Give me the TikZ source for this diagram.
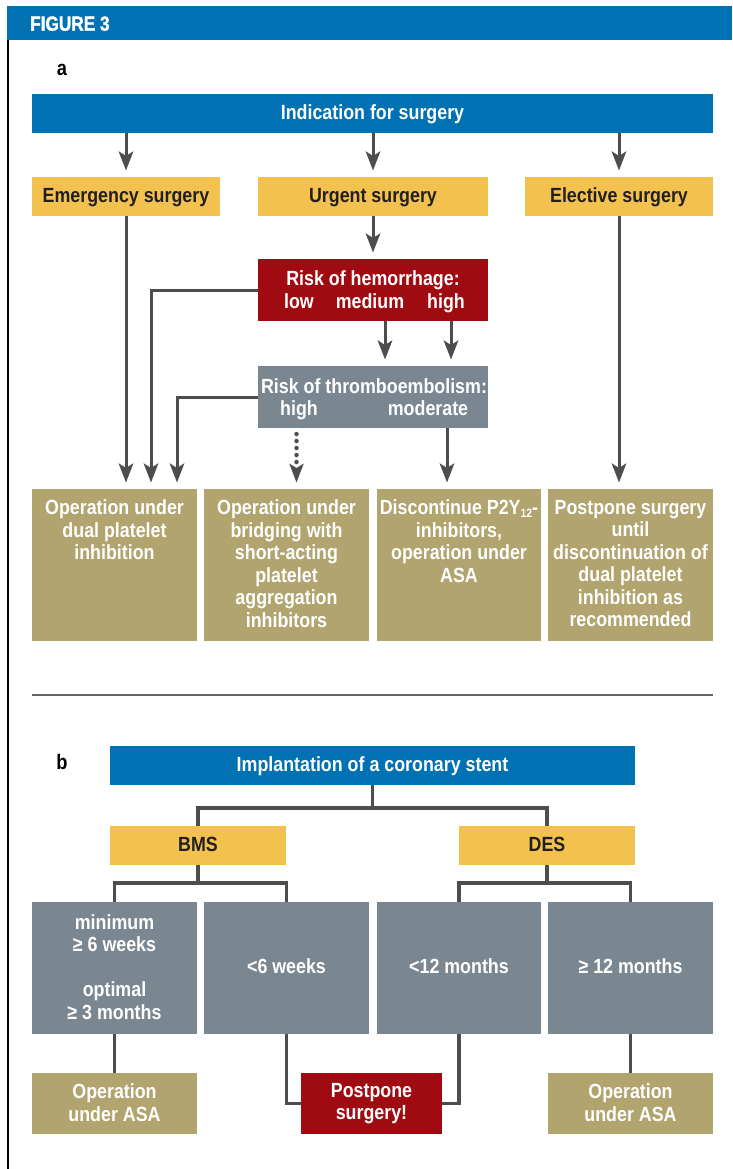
\documentclass[tikz,border=0pt]{standalone}
\usepackage{fontspec}
\setmainfont{Liberation Sans}[FakeStretch=0.87]
\newfontfamily\headfont{Liberation Sans Bold}[FakeStretch=0.84, FakeBold=1.6]
\usetikzlibrary{arrows.meta,calc}
\definecolor{cblue}{RGB}{0,113,179}
\definecolor{cyellow}{RGB}{242,193,78}
\definecolor{cred}{RGB}{160,11,18}
\definecolor{cgrey}{RGB}{123,135,144}
\definecolor{ckhaki}{RGB}{178,164,111}
\definecolor{cline}{RGB}{77,77,79}
\definecolor{cdark}{RGB}{35,31,32}
\definecolor{csep}{RGB}{100,100,100}
\tikzset{
  rbox/.style={rectangle, inner sep=0pt, outer sep=0pt, draw=none},
  txt/.style={font={\fontsize{20.5}{22.5}\selectfont\bfseries}, inner sep=0pt, outer sep=0pt, align=center},
  wtxt/.style={txt, text=white},
  dtxt/.style={txt, text=cdark},
  arr/.style={draw=cline, line width=3pt, -{Stealth[length=19pt,width=14.5pt,inset=4.5pt]}, shorten >=6.5pt},
  dotarr/.style={draw=cline, -{Stealth[length=19pt,width=14.5pt,inset=4.5pt,line width=0pt]}, shorten >=6.5pt, dash pattern=on 0pt off 7pt, line cap=round, line width=4.5pt},
  ln/.style={draw=cline, line width=3.2pt},
}
\begin{document}
\begin{tikzpicture}[x=1pt,y=-1pt]
\useasboundingbox (0,0) rectangle (732,1169);
% header
\node[rbox, fill=cblue, minimum width=725pt, minimum height=34pt] (hdr) at (369.5,23) {};
\node[anchor=base west, inner sep=0pt, text=white, font={\headfont\fontsize{20.5}{22}\selectfont}] (hdrt) at (30,30.7) {FIGURE 3};
\draw[line width=2pt, black] (7.5,40) -- (7.5,1169);

% ---------- part a ----------
\node[anchor=base, inner sep=0pt, font={\fontsize{21}{22}\selectfont\bfseries}] (la) at (62,76) {a};
\node[rbox, fill=cblue, minimum width=681pt, minimum height=39pt] (ind) at (372.5,113.5) {};
\node[wtxt, anchor=base] (indt) at (372.5,119.5) {Indication for surgery};

\node[rbox, fill=cyellow, minimum width=188pt, minimum height=39pt] (emerg) at (126,196.5) {};
\node[dtxt, anchor=base] (emergt) at (126,202.7) {Emergency surgery};
\node[rbox, fill=cyellow, minimum width=230pt, minimum height=39pt] (urg) at (373,196.5) {};
\node[dtxt, anchor=base] (urgt) at (373,202.7) {Urgent surgery};
\node[rbox, fill=cyellow, minimum width=188pt, minimum height=39pt] (elec) at (619,196.5) {};
\node[dtxt, anchor=base] (elect) at (619,202.7) {Elective surgery};

\node[rbox, fill=cred, minimum width=230pt, minimum height=62pt] (risk) at (373,290) {};
\node[wtxt, anchor=base] (riskt) at (373,285.5) {Risk of hemorrhage:};
\node[wtxt, anchor=base] (rlow) at (299,308.5) {low};
\node[wtxt, anchor=base] (rmed) at (370,308.5) {medium};
\node[wtxt, anchor=base] (rhigh) at (446,308.5) {high};

\node[rbox, fill=cgrey, minimum width=230pt, minimum height=62pt] (thromb) at (373,397) {};
\node[wtxt, anchor=base] (thrombt) at (374,393) {Risk of thromboembolism:};
\node[wtxt, anchor=base] (thigh) at (299,415) {high};
\node[wtxt, anchor=base] (tmod) at (428,415) {moderate};

\node[rbox, fill=ckhaki, minimum width=165pt, minimum height=152pt] (op1) at (114.5,565) {};
\node[rbox, fill=ckhaki, minimum width=165pt, minimum height=152pt] (op2) at (286.5,565) {};
\node[rbox, fill=ckhaki, minimum width=164pt, minimum height=152pt] (op3) at (459,565) {};
\node[rbox, fill=ckhaki, minimum width=165pt, minimum height=152pt] (op4) at (630.5,565) {};
\node[wtxt, anchor=north] (op1t) at (114.5,500) {Operation under\\dual platelet\\inhibition};
\node[wtxt, anchor=north] (op2t) at (286.5,500) {Operation under\\bridging with\\short-acting\\platelet\\aggregation\\inhibitors};
\node[wtxt, anchor=north] (op3t) at (459,500) {Discontinue P2Y{\fontsize{12}{12}\selectfont\raisebox{-2.5pt}{12}}-\\inhibitors,\\operation under\\ASA};
\node[wtxt, anchor=north] (op4t) at (630.5,500) {Postpone surgery\\until\\discontinuation of\\dual platelet\\inhibition as\\recommended};

\coordinate (c1) at (151,489);
\coordinate (c2) at (177,489);

\draw[arr] (ind.south -| emerg) -- (emerg.north);
\draw[arr] (ind.south -| urg) -- (urg.north);
\draw[arr] (ind.south -| elec) -- (elec.north);
\draw[arr] (urg.south) -- (risk.north);
\draw[arr] ([xshift=12pt]risk.south) -- ([xshift=12pt]thromb.north);
\draw[arr] ([xshift=78pt]risk.south) -- ([xshift=78pt]thromb.north);
\draw[arr] (emerg.south) -- (emerg.south |- op1.north);
\draw[arr] (risk.west) -| (c1);
\draw[arr] (thromb.west) -| (c2);
\draw[dotarr] ([xshift=-76.5pt,yshift=-6pt]thromb.south) -- ([xshift=-76.5pt]thromb.south |- op2.north);
\draw[arr] ([xshift=74pt]thromb.south) -- ([xshift=74pt]thromb.south |- op3.north);
\draw[arr] (elec.south) -- (elec.south |- op4.north);

% separator
\draw[line width=2pt, csep] (32,694.5) -- (713,694.5);

% ---------- part b ----------
\node[anchor=base, inner sep=0pt, font={\fontsize{21}{22}\selectfont\bfseries}] (lb) at (62,769.5) {b};
\node[rbox, fill=cblue, minimum width=525pt, minimum height=39pt] (impl) at (372.5,765.5) {};
\node[wtxt, anchor=base] (implt) at (372.5,771.7) {Implantation of a coronary stent};
\node[rbox, fill=cyellow, minimum width=176pt, minimum height=39pt] (bms) at (198,845.5) {};
\node[dtxt, anchor=base] (bmst) at (198,851.7) {BMS};
\node[rbox, fill=cyellow, minimum width=176pt, minimum height=39pt] (des) at (547,845.5) {};
\node[dtxt, anchor=base] (dest) at (547,851.7) {DES};

\node[rbox, fill=cgrey, minimum width=165pt, minimum height=132pt] (g1) at (114.5,968) {};
\node[rbox, fill=cgrey, minimum width=165pt, minimum height=132pt] (g2) at (286.5,968) {};
\node[rbox, fill=cgrey, minimum width=164pt, minimum height=132pt] (g3) at (459,968) {};
\node[rbox, fill=cgrey, minimum width=165pt, minimum height=132pt] (g4) at (630.5,968) {};
\node[wtxt] (g1t) at (114.5,967) {minimum\\≥ 6 weeks\\[22.5pt]optimal\\≥ 3 months};
\node[wtxt, anchor=base] (g2t) at (286.5,973) {<6 weeks};
\node[wtxt, anchor=base] (g3t) at (459,973) {<12 months};
\node[wtxt, anchor=base] (g4t) at (630.5,973) {≥ 12 months};

\node[rbox, fill=ckhaki, minimum width=165pt, minimum height=61pt] (o1) at (114.5,1103.5) {};
\node[wtxt, anchor=north] (o1t) at (114.5,1084) {Operation\\under ASA};
\node[rbox, fill=cred, minimum width=141pt, minimum height=61pt] (post) at (371.5,1103.5) {};
\node[wtxt, anchor=north] (postt) at (371.5,1083) {Postpone\\surgery!};
\node[rbox, fill=ckhaki, minimum width=165pt, minimum height=61pt] (o2) at (630.5,1103.5) {};
\node[wtxt, anchor=north] (o2t) at (630.5,1084) {Operation\\under ASA};

\coordinate (jb) at (372.5,808);
\coordinate (jb2) at (198,883);
\coordinate (jb3) at (547,883);
\draw[ln] (impl.south) -- (jb);
\draw[ln] (bms.north) |- (jb) -| (des.north);
\draw[ln] (bms.south) -- (jb2);
\draw[ln] (g1.north) |- (jb2) -| (g2.north);
\draw[ln] (des.south) -- (jb3);
\draw[ln] (g3.north) |- (jb3) -| (g4.north);
\draw[ln] (g1.south) -- (o1.north);
\draw[ln] (g2.south) |- (post.west);
\draw[ln] (g3.south) |- (post.east);
\draw[ln] (g4.south) -- (o2.north);
\end{tikzpicture}
\end{document}
